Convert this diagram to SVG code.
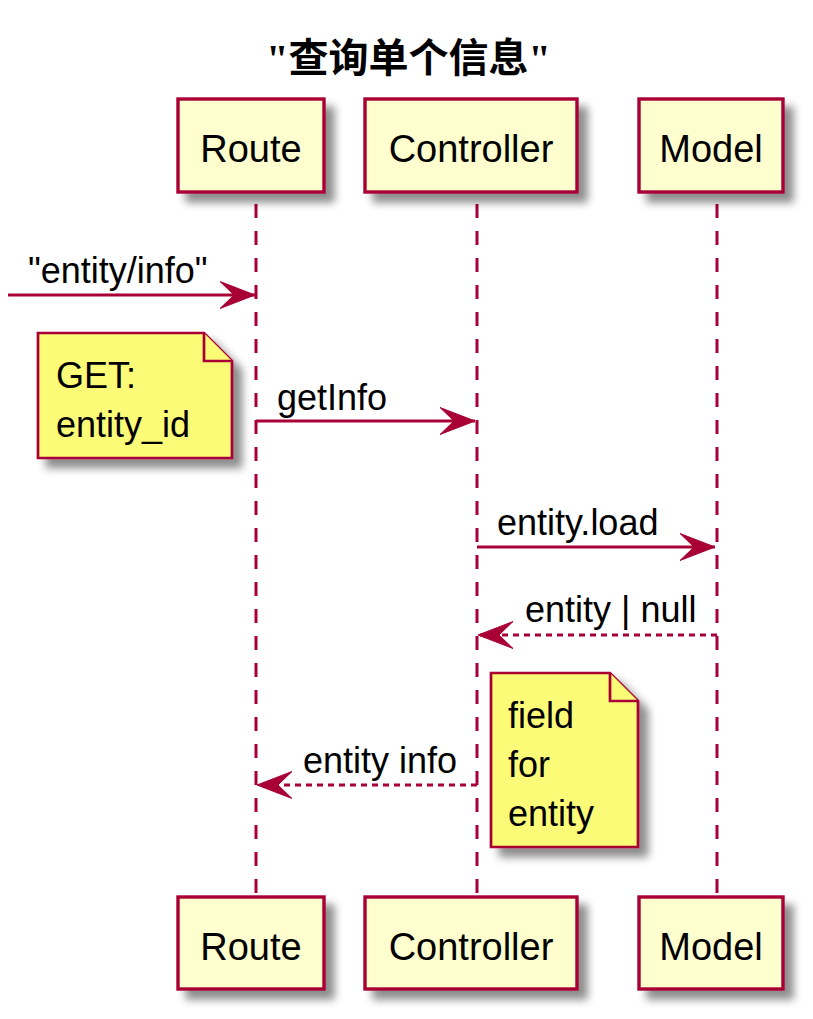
<svg xmlns="http://www.w3.org/2000/svg" width="813" height="1019" viewBox="0 0 813 1019">
<style>
.box{fill:#FEFECE;stroke:#A80036;stroke-width:3.4}
.note{fill:#FBFB77;stroke:#A80036;stroke-width:2.7}
.ptxt{font-family:"Liberation Sans",Arial,sans-serif;font-size:38px;fill:#000;text-anchor:middle}
.mtxt{font-family:"Liberation Sans",Arial,sans-serif;font-size:36px;fill:#000}
.life{stroke:#A80036;stroke-width:3;stroke-dasharray:14,13;fill:none}
.msg{stroke:#A80036;stroke-width:3;fill:none;marker-end:url(#ah)}
.ret{stroke-dasharray:6,5}
.title{font-family:"Liberation Serif","Noto Sans CJK SC",serif;font-size:40px;font-weight:bold;text-anchor:middle;fill:#000}
</style>
<defs>
<filter id="sh" x="-20%" y="-20%" width="150%" height="150%">
<feGaussianBlur in="SourceAlpha" stdDeviation="4" result="b"/>
<feOffset in="b" dx="9" dy="9" result="o"/>
<feComponentTransfer in="o" result="c"><feFuncA type="linear" slope="0.45"/></feComponentTransfer>
<feMerge><feMergeNode in="c"/><feMergeNode in="SourceGraphic"/></feMerge>
</filter>
<marker id="ah" markerUnits="userSpaceOnUse" viewBox="-36 -15 38 30" refX="0" refY="0" markerWidth="38" markerHeight="30" orient="auto">
<path d="M0,0 L-35,-13.5 L-21,0 L-35,13.5 Z" fill="#A80036" stroke="#A80036" stroke-width="1"/>
</marker>
</defs>
<text class="title" x="408.5" y="72">"查询单个信息"</text>
<g id="lifelines">
<line class="life" x1="256" y1="204" x2="256" y2="896"/>
<line class="life" x1="477" y1="204" x2="477" y2="896"/>
<line class="life" x1="717" y1="204" x2="717" y2="896"/>
</g>
<g id="Route">
<rect class="box" x="178" y="99" width="146" height="93" filter="url(#sh)"/>
<text class="ptxt" x="251" y="162">Route</text>
</g>
<g id="Controller">
<rect class="box" x="365" y="99" width="212" height="93" filter="url(#sh)"/>
<text class="ptxt" x="471" y="162">Controller</text>
</g>
<g id="Model">
<rect class="box" x="639" y="99" width="144" height="93" filter="url(#sh)"/>
<text class="ptxt" x="711" y="162">Model</text>
</g>
<g id="Route_bottom">
<rect class="box" x="178" y="897" width="146" height="92" filter="url(#sh)"/>
<text class="ptxt" x="251" y="960">Route</text>
</g>
<g id="Controller_bottom">
<rect class="box" x="365" y="897" width="212" height="92" filter="url(#sh)"/>
<text class="ptxt" x="471" y="960">Controller</text>
</g>
<g id="Model_bottom">
<rect class="box" x="639" y="897" width="144" height="92" filter="url(#sh)"/>
<text class="ptxt" x="711" y="960">Model</text>
</g>
<g id="note_get">
<path class="note" d="M38,333 L204,333 L232,361 L232,458 L38,458 Z" filter="url(#sh)"/>
<path class="note" d="M204,333 L204,361 L232,361"/>
<text class="mtxt" x="56" y="388">GET:</text>
<text class="mtxt" x="56" y="437">entity_id</text>
</g>
<g id="note_field">
<path class="note" d="M491,673 L610,673 L638,701 L638,847 L491,847 Z" filter="url(#sh)"/>
<path class="note" d="M610,673 L610,701 L638,701"/>
<text class="mtxt" x="508" y="728">field</text>
<text class="mtxt" x="508" y="777">for</text>
<text class="mtxt" x="508" y="826">entity</text>
</g>
<g id="connectors">
<line class="msg" x1="8" y1="295" x2="255" y2="295"/>
<text class="mtxt" x="28" y="283">"entity/info"</text>
<line class="msg" x1="256" y1="421" x2="475" y2="421"/>
<text class="mtxt" x="277" y="410">getInfo</text>
<line class="msg" x1="477" y1="547" x2="715" y2="547"/>
<text class="mtxt" x="497" y="535">entity.load</text>
<line class="msg ret" x1="717" y1="635" x2="478" y2="635"/>
<text class="mtxt" x="525" y="622">entity | null</text>
<line class="msg ret" x1="477" y1="785" x2="257" y2="785"/>
<text class="mtxt" x="303" y="773">entity info</text>
</g>
</svg>
